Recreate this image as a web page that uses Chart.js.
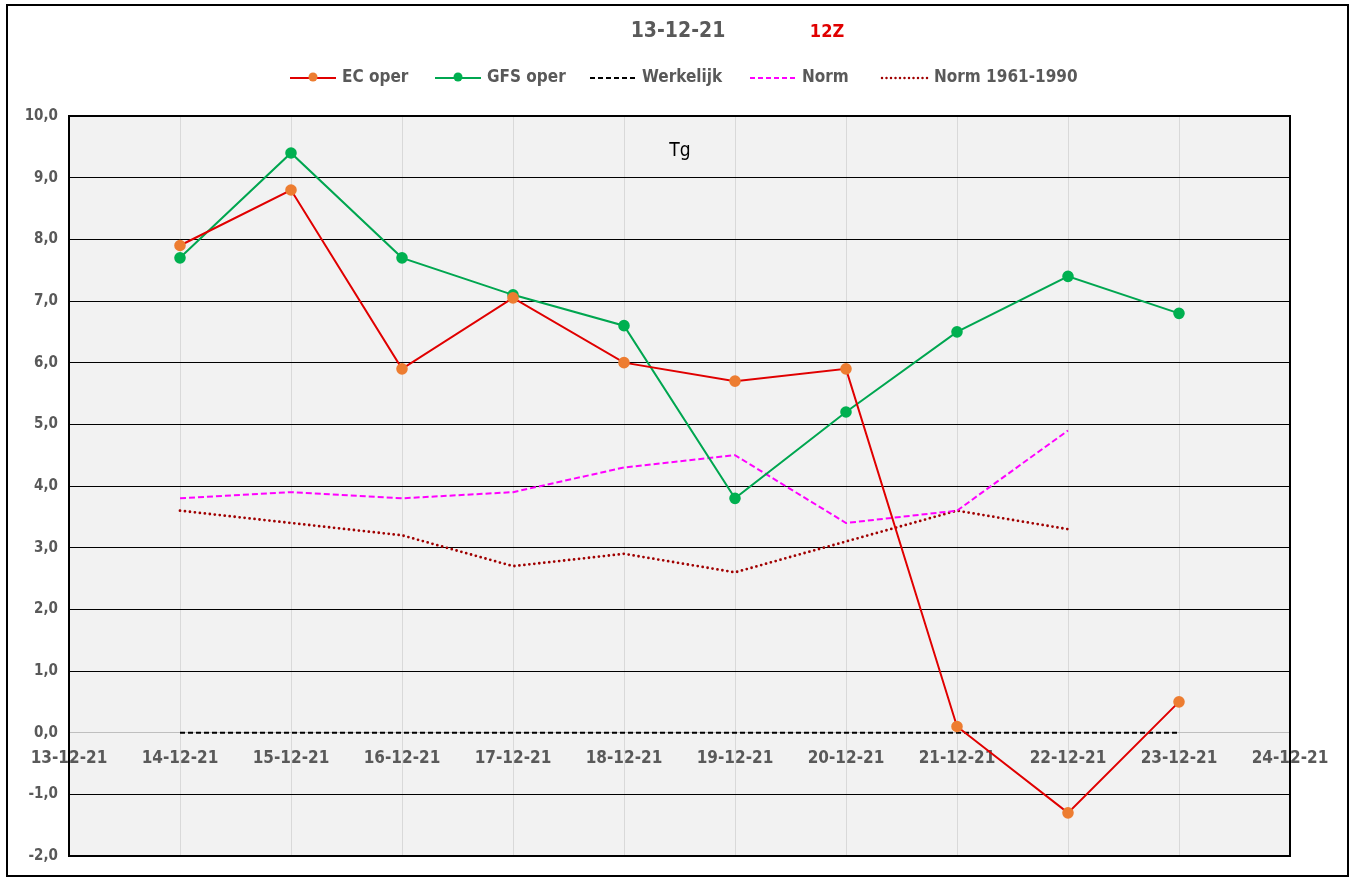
<!DOCTYPE html>
<html>
<head>
<meta charset="utf-8">
<script src="https://cdn.jsdelivr.net/npm/chart.js@4/dist/chart.umd.min.js"></script>
<style>
  html, body { margin: 0; padding: 0; background: #fff; }
  #wrap { width: 1355px; height: 881px; }
</style>
</head>
<body>
<div id="wrap"><canvas id="tg-chart"></canvas></div>
<script>
// dagen
var dates = ["13-12-21", "14-12-21", "15-12-21", "16-12-21", "17-12-21", "18-12-21",
             "19-12-21", "20-12-21", "21-12-21", "22-12-21", "23-12-21", "24-12-21"];
// series (Tg)
var ecOper    = [null, 7.9, 8.8, 5.9, 7.05, 6.0, 5.7, 5.9, 0.1, -1.3, 0.5, null];
var gfsOper   = [null, 7.7, 9.4, 7.7, 7.1, 6.6, 3.8, 5.2, 6.5, 7.4, 6.8, null];
var werkelijk = [null, 0, 0, 0, 0, 0, 0, 0, 0, 0, 0, null];
var norm      = [null, 3.8, 3.9, 3.8, 3.9, 4.3, 4.5, 3.4, 3.6, 4.9, null, null];
var norm6190  = [null, 3.6, 3.4, 3.2, 2.7, 2.9, 2.6, 3.1, 3.6, 3.3, null, null];
var yTicks = [10, 9, 8, 7, 6, 5, 4, 3, 2, 1, 0, -1, -2];

var titleText = "13-12-21";
var runText = "12Z";
var innerLabel = "Tg";

var FONT = "'Liberation Sans Narrow', 'DejaVu Sans Condensed', 'Open Sans', sans-serif";
var GREY = "#595959";

var legendItems = [
    { label: "EC oper", color: "#e00000", dash: [], cap: "butt", marker: "#ed7d31", x: 290 },
    { label: "GFS oper", color: "#00a650", dash: [], cap: "butt", marker: "#00b050", x: 435 },
    { label: "Werkelijk", color: "#000000", dash: [5, 3], cap: "butt", marker: null, x: 590 },
    { label: "Norm", color: "#ff00ff", dash: [5, 3], cap: "butt", marker: null, x: 750 },
    { label: "Norm 1961-1990", color: "#a00000", dash: [0, 4.5], cap: "round", marker: null, x: 882 }
];

// frame, titel, legenda en "Tg" tekenen
var decorPlugin = {
    id: 'decor',
    beforeDraw: function(chart) {
        var ctx = chart.ctx, a = chart.chartArea;
        ctx.save();
        ctx.fillStyle = "#f2f2f2";
        ctx.fillRect(a.left, a.top, a.right - a.left, a.bottom - a.top);
        ctx.restore();
    },
    afterDraw: function(chart) {
        var ctx = chart.ctx, a = chart.chartArea;
        ctx.save();
        // buitenrand
        ctx.strokeStyle = "#000";
        ctx.lineWidth = 2;
        ctx.strokeRect(7, 5, 1341, 871);
        // plot rand
        ctx.strokeRect(a.left, a.top, a.right - a.left, a.bottom - a.top);

        ctx.textBaseline = "middle";
        ctx.textAlign = "center";
        ctx.fillStyle = GREY;
        ctx.font = "bold 21px " + FONT;
        ctx.fillText(titleText, 678, 32);
        ctx.fillStyle = "#e00000";
        ctx.font = "bold 18px " + FONT;
        ctx.fillText(runText, 827, 32);

        ctx.fillStyle = "#000";
        ctx.font = "19px " + FONT;
        ctx.fillText(innerLabel, 680, 151);

        // legenda
        ctx.textAlign = "left";
        ctx.font = "bold 17px " + FONT;
        legendItems.forEach(function(it) {
            ctx.beginPath();
            ctx.strokeStyle = it.color;
            ctx.lineWidth = it.cap === "round" ? 2.5 : 2;
            ctx.lineCap = it.cap;
            ctx.setLineDash(it.dash);
            ctx.moveTo(it.x, 78);
            ctx.lineTo(it.x + 46, 78);
            ctx.stroke();
            ctx.setLineDash([]);
            ctx.lineCap = "butt";
            if (it.marker) {
                ctx.beginPath();
                ctx.fillStyle = it.marker;
                ctx.arc(it.x + 23, 77, 4.5, 0, Math.PI * 2);
                ctx.fill();
            }
            ctx.fillStyle = GREY;
            ctx.fillText(it.label, it.x + 52, 78);
        });
        ctx.restore();
    }
};

new Chart(document.getElementById("tg-chart"), {
    type: 'line',
    data: {
        labels: dates,
        datasets: [
            { label: "EC oper", data: ecOper, borderColor: "#e00000", borderWidth: 2,
              pointBackgroundColor: "#ed7d31", pointBorderColor: "#ed7d31", pointRadius: 4.8, tension: 0 },
            { label: "GFS oper", data: gfsOper, borderColor: "#00a650", borderWidth: 2,
              pointBackgroundColor: "#00b050", pointBorderColor: "#00b050", pointRadius: 4.8, tension: 0 },
            { label: "Werkelijk", data: werkelijk, borderColor: "#000000", borderWidth: 2,
              borderDash: [5, 3], pointRadius: 0, tension: 0 },
            { label: "Norm", data: norm, borderColor: "#ff00ff", borderWidth: 2,
              borderDash: [6, 3], pointRadius: 0, tension: 0 },
            { label: "Norm 1961-1990", data: norm6190, borderColor: "#a00000", borderWidth: 2.8,
              borderDash: [0, 5], borderCapStyle: 'round', pointRadius: 0, tension: 0 }
        ]
    },
    options: {
        responsive: true,
        maintainAspectRatio: false,
        animation: false,
        layout: { padding: { top: 116, left: 7, right: 65, bottom: 25 } },
        plugins: {
            legend: { display: false },
            title: { display: false },
            tooltip: { enabled: false }
        },
        scales: {
            x: {
                type: 'category',
                position: { y: 0 },
                offset: false,
                grid: {
                    color: "#d9d9d9",
                    lineWidth: 1,
                    drawTicks: false
                },
                border: { color: "#bfbfbf", width: 1 },
                ticks: {
                    padding: 16,
                    maxRotation: 0,
                    autoSkip: false,
                    color: GREY,
                    font: { family: FONT, size: 17, weight: 'bold' }
                }
            },
            y: {
                min: -2,
                max: 10,
                afterFit: function(scale) { scale.width = 62; },
                afterBuildTicks: function(scale) {
                    scale.ticks = yTicks.map(function(v) { return { value: v }; });
                },
                grid: {
                    color: function(c) { return c.tick && c.tick.value === 0 ? "rgba(0,0,0,0)" : "#000"; },
                    lineWidth: 1,
                    drawTicks: false
                },
                border: { color: "#000", width: 2 },
                ticks: {
                    padding: 11,
                    color: GREY,
                    font: { family: FONT, size: 15, weight: 'bold' },
                    callback: function(v) { return v.toFixed(1).replace('.', ','); }
                }
            }
        }
    },
    plugins: [decorPlugin]
});
</script>
</body>
</html>
